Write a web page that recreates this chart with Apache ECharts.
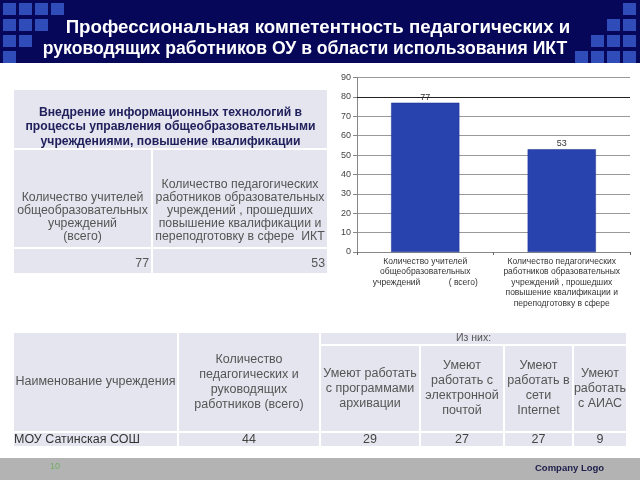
<!DOCTYPE html>
<html><head><meta charset="utf-8">
<script src="https://cdn.jsdelivr.net/npm/echarts@6/dist/echarts.min.js"></script>
<style>html,body{margin:0;padding:0;background:#fff}#c{width:640px;height:480px}</style>
</head><body><div id="c"></div>
<script>
// ---- data ----
const titleLines = ['Профессиональная компетентность педагогических и', 'руководящих работников ОУ в области использования ИКТ'];
const categories = ['Количество учителей\nобщеобразовательных\nучреждений            ( всего)',
  'Количество педагогических\nработников образовательных\nучреждений , прошедших\nповышение квалификации и\nпереподготовку в сфере'];
const values = [77, 53];
const yMin = 0, yMax = 90, yStep = 10;
const highlightGridValue = 80;
const topTableTitle = ['Внедрение информационных технологий в', 'процессы управления общеобразовательными', 'учреждениями, повышение квалификации'];
const topTableHeaders = ['Количество учителей\nобщеобразовательных\nучреждений\n(всего)',
  'Количество педагогических\nработников образовательных\nучреждений , прошедших\nповышение квалификации и\nпереподготовку в сфере  ИКТ'];
const bottomHeaders = ['Наименование учреждения', 'Количество\nпедагогических и\nруководящих\nработников (всего)'];
const bottomGroup = 'Из них:';
const bottomSubHeaders = ['Умеют работать\nс программами\nархивации', 'Умеют\nработать с\nэлектронной\nпочтой', 'Умеют\nработать в\nсети\nInternet', 'Умеют\nработать\nс АИАС'];
const rowName = 'МОУ Сатинская СОШ';
const rowValues = [44, 29, 27, 27, 9];
const pageNumber = '10';
const logoText = 'Company Logo';

// ---- layout ----
const FONT = 'Arial, "Liberation Sans", sans-serif';
const CELL = '#e5e5ef';
const TXT = '#555';
const g = [];
function rect(x, y, w, h, fill) { g.push({type: 'rect', shape: {x, y, width: w, height: h}, style: {fill}, silent: true}); }
function text(x, y, t, o) {
  g.push({type: 'text', x, y, silent: true, style: Object.assign({text: t, fill: TXT, fontFamily: FONT, fontSize: 12,
    align: 'center', verticalAlign: 'middle', lineHeight: 15}, o || {})});
}
function cell(x0, y0, x1, y1) { rect(x0 + 1, y0 + 1, x1 - x0 - 2, y1 - y0 - 2, CELL); }

// header band
rect(0, 0, 640, 63, '#07075a');
const SQ = '#2f4cb8';
const pitch = 16;
for (let r = 0; r < 4; r++) {
  for (let c = 0; c < 4 - r; c++) rect(3 + c * pitch, 3 + r * pitch, 13, 12, SQ);
  for (let c = 3 - r; c < 4; c++) rect(575 + c * pitch, 3 + r * pitch, 13, 12, SQ);
}
text(318, 28, titleLines[0], {fill: '#fff', fontSize: 18.7, fontWeight: 'bold'});
text(305, 49, titleLines[1], {fill: '#fff', fontSize: 17.6, fontWeight: 'bold'});

// top-left table
const tCols = [13, 152, 328], tRows = [89, 149, 248, 274];
cell(tCols[0], tRows[0], tCols[2], tRows[1]);
for (let r = 1; r < 3; r++) for (let c = 0; c < 2; c++) cell(tCols[c], tRows[r], tCols[c + 1], tRows[r + 1]);
text((tCols[0] + tCols[2]) / 2, 127, topTableTitle.join('\n'), {fill: '#20205c', fontSize: 12.2, fontWeight: 'bold', lineHeight: 14.5});
text((tCols[0] + tCols[1]) / 2, 217.5, topTableHeaders[0], {fontSize: 12.3, lineHeight: 13});
text((tCols[1] + tCols[2]) / 2, 211, topTableHeaders[1], {fontSize: 12.3, lineHeight: 13});
values.forEach((v, i) => text(tCols[i + 1] - 3, 264, String(v), {align: 'right', fontSize: 12.3}));

// bottom table
const bCols = [13, 178, 320, 420, 504, 573, 627], bRows = [332, 345, 432, 447];
cell(bCols[0], bRows[0], bCols[1], bRows[2]);
cell(bCols[1], bRows[0], bCols[2], bRows[2]);
cell(bCols[2], bRows[0], bCols[6], bRows[1]);
for (let c = 2; c < 6; c++) cell(bCols[c], bRows[1], bCols[c + 1], bRows[2]);
for (let c = 0; c < 6; c++) cell(bCols[c], bRows[2], bCols[c + 1], bRows[3]);
text((bCols[0] + bCols[1]) / 2, (bRows[0] + bRows[2]) / 2, bottomHeaders[0], {fontSize: 12.5});
text((bCols[1] + bCols[2]) / 2, (bRows[0] + bRows[2]) / 2, bottomHeaders[1], {fontSize: 12.5});
text((bCols[2] + bCols[6]) / 2, (bRows[0] + bRows[1]) / 2, bottomGroup, {fontSize: 10.5});
bottomSubHeaders.forEach((h, i) => text((bCols[i + 2] + bCols[i + 3]) / 2, (bRows[1] + bRows[2]) / 2, h, {fontSize: 12.5}));
text(bCols[0] + 1, (bRows[2] + bRows[3]) / 2, rowName, {align: 'left', fill: '#333', fontSize: 12.5});
rowValues.forEach((v, i) => text((bCols[i + 1] + bCols[i + 2]) / 2, (bRows[2] + bRows[3]) / 2, String(v), {fill: '#444', fontSize: 12.5}));

// footer
rect(0, 458, 640, 22, '#b3b3b3');
text(55, 467, pageNumber, {fill: '#6fae5f', fontSize: 9});
text(535, 468, logoText, {align: 'left', fill: '#20204e', fontSize: 9.5, fontWeight: 'bold'});

const chart = echarts.init(document.getElementById('c'), null, {renderer: 'canvas'});
chart.setOption({
  animation: false,
  backgroundColor: '#fff',
  textStyle: {fontFamily: FONT},
  grid: {left: 357, right: 10, top: 77.5, bottom: 228, containLabel: false},
  xAxis: {
    type: 'category', data: categories,
    axisLine: {lineStyle: {color: '#888'}},
    axisTick: {show: true, length: 3, lineStyle: {color: '#666'}},
    axisLabel: {interval: 0, color: '#333', fontSize: 8.5, lineHeight: 10.6, margin: 4}
  },
  yAxis: {
    type: 'value', min: yMin, max: yMax, interval: yStep,
    axisLine: {show: true, lineStyle: {color: '#888'}},
    axisTick: {show: true, length: 4, lineStyle: {color: '#888'}},
    axisLabel: {color: '#444', fontSize: 9, margin: 6},
    splitLine: {lineStyle: {color: '#999', width: 1}}
  },
  series: [{
    type: 'bar', data: values, barWidth: '50%',
    itemStyle: {color: '#2843ae', borderColor: '#1c3190', borderWidth: 0.5},
    label: {show: true, position: 'top', distance: 1, color: '#333', fontSize: 9},
    markLine: {silent: true, symbol: 'none', label: {show: false},
      lineStyle: {color: '#222', width: 1, type: 'solid'}, data: [{yAxis: highlightGridValue}]}
  }],
  graphic: {elements: g}
});
</script></body></html>
